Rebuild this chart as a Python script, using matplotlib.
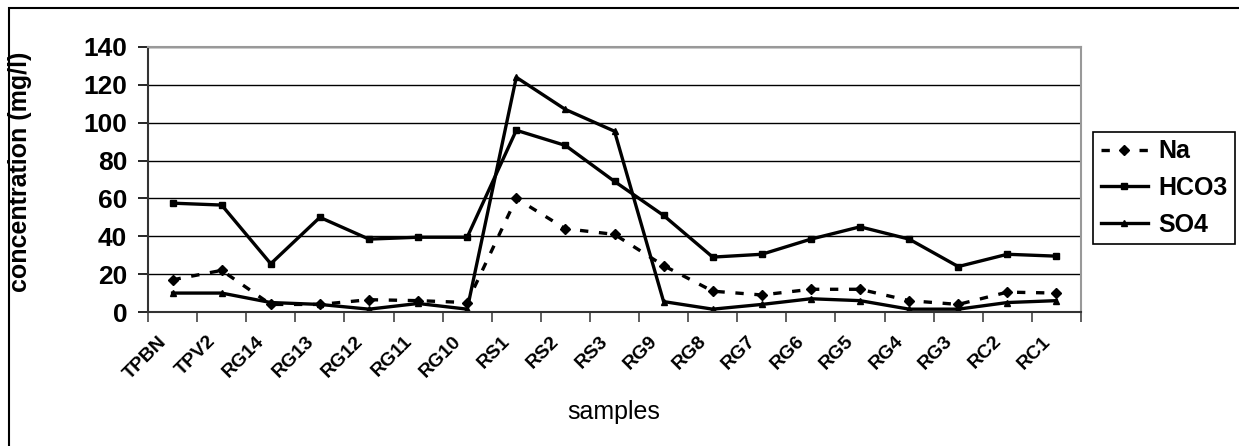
import numpy as np
import matplotlib.pyplot as plt
from matplotlib.patches import Rectangle

plt.rcParams['font.family'] = ['Liberation Sans', 'DejaVu Sans']

samples = ['TPBN', 'TPV2', 'RG14', 'RG13', 'RG12', 'RG11', 'RG10', 'RS1', 'RS2', 'RS3',
           'RG9', 'RG8', 'RG7', 'RG6', 'RG5', 'RG4', 'RG3', 'RC2', 'RC1']
na = [17, 22, 4, 4, 6.5, 6, 5, 60, 44, 41, 24.5, 11, 9, 12, 12, 6, 4, 10.5, 10]
hco3 = [57.5, 56.5, 25.5, 50, 38.5, 39.5, 39.5, 96, 88, 69, 51, 29, 30.5, 38.5, 45, 38.5, 24, 30.5, 29.5]
so4 = [10, 10, 5, 4, 1.5, 4.5, 1.5, 124, 107, 95.5, 5.5, 1.5, 4, 7, 6, 1.5, 1.5, 5, 6]

fig = plt.figure(figsize=(12.39, 4.46), dpi=100)
ax = fig.add_axes([148/1239, 1 - 312/446, (1081 - 148)/1239, (312 - 47)/446])

x = np.arange(len(samples))
ax.plot(x, na, color='black', lw=2.4, ls=(0, (2.5, 3.2)), marker='D', ms=5.5, label='Na')
ax.plot(x, hco3, color='black', lw=2.4, marker='s', ms=5, label='HCO3')
ax.plot(x, so4, color='black', lw=2.4, marker='^', ms=4, label='SO4')

ax.set_xlim(-0.5, len(samples) - 0.5)
ax.set_ylim(0, 140)
ax.set_yticks(np.arange(0, 141, 20))
ax.yaxis.grid(True, color='black', lw=1)
ax.set_axisbelow(True)

# ticks between categories; labels sit a bit left of each category, like Excel does
ax.set_xticks(np.arange(-0.5, len(samples)), minor=False)
ax.set_xticklabels([])
ax.set_xticks(x - 0.3, minor=True)
ax.set_xticklabels(samples, minor=True, rotation=45, ha='right', rotation_mode='anchor',
                   fontsize=14, fontweight='bold')
ax.tick_params(axis='x', which='major', length=7, width=1.2, color='#444444')
ax.tick_params(axis='x', which='minor', length=0, pad=15)
ax.tick_params(axis='y', length=7, width=1.2, labelsize=19, pad=8)
for t in ax.get_yticklabels():
    t.set_fontweight('bold')

for s in ['top', 'right']:
    ax.spines[s].set_color('#999999')
    ax.spines[s].set_linewidth(1.5)
for s in ['left', 'bottom']:
    ax.spines[s].set_color('#333333')
    ax.spines[s].set_linewidth(1.5)

ax.set_ylabel('concentration (mg/l)', fontsize=18, fontweight='bold')
ax.yaxis.set_label_coords(-116/933, 0.53)
fig.text(614/1239, 1 - 412/446, 'samples', fontsize=18, ha='center', va='center')

leg = fig.legend(loc='upper left', bbox_to_anchor=(1093/1239, 1 - 132/446), borderaxespad=0,
                 fancybox=False, edgecolor='black', framealpha=1, handlelength=1.9,
                 prop={'weight': 'bold', 'size': 18}, labelspacing=0.5, handletextpad=0.4,
                 borderpad=0.3)
leg.get_frame().set_linewidth(1.2)

fig.patches.append(Rectangle((9/1239, -0.1), 1.5, 1.1 - 8/446, transform=fig.transFigure,
                             fill=False, edgecolor='black', lw=1.5))

fig.savefig('out.png', dpi=100)
